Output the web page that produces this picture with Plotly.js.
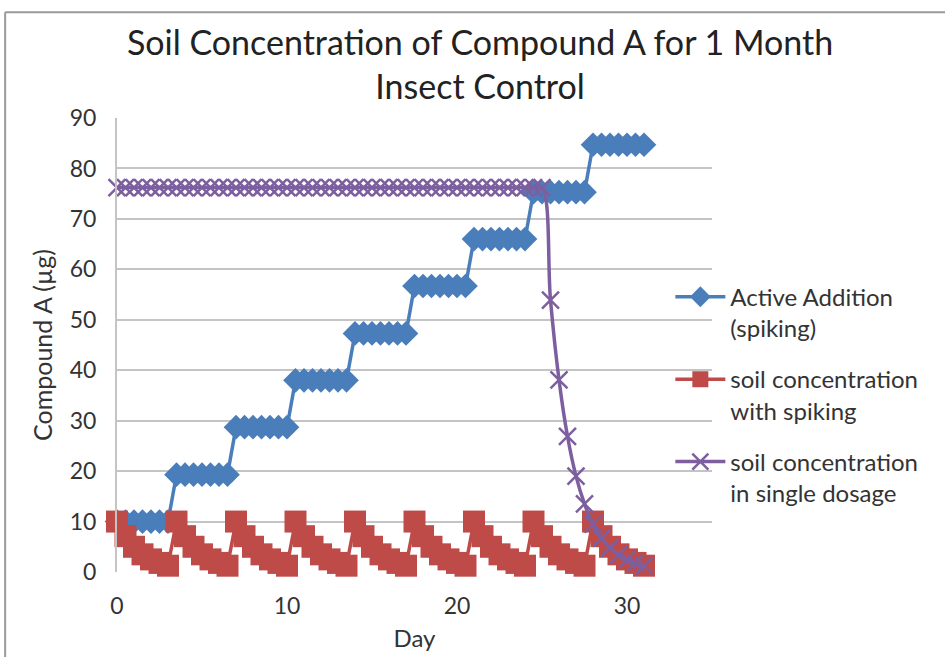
<!DOCTYPE html>
<html>
<head>
<meta charset="utf-8">
<script src="https://cdn.plot.ly/plotly-3.0.1.min.js"></script>
<style>html,body{margin:0;padding:0;background:#fff;}#chart{width:945px;height:657px;}</style>
</head>
<body>
<div id="chart"></div>
<script>
// Day values (every half day)
const days = [0,0.5,1,1.5,2,2.5,3,3.5,4,4.5,5,5.5,6,6.5,7,7.5,8,8.5,9,9.5,10,10.5,11,11.5,12,12.5,13,13.5,14,14.5,15,15.5,16,16.5,17,17.5,18,18.5,19,19.5,20,20.5,21,21.5,22,22.5,23,23.5,24,24.5,25,25.5,26,26.5,27,27.5,28,28.5,29,29.5,30,30.5,31];

const activeAddition = [
  10,10,10,10,10,10,10,
  19.3,19.3,19.3,19.3,19.3,19.3,19.3,
  28.7,28.7,28.7,28.7,28.7,28.7,28.7,
  38.0,38.0,38.0,38.0,38.0,38.0,38.0,
  47.3,47.3,47.3,47.3,47.3,47.3,47.3,
  56.7,56.7,56.7,56.7,56.7,56.7,56.7,
  66.0,66.0,66.0,66.0,66.0,66.0,66.0,
  75.3,75.3,75.3,75.3,75.3,75.3,75.3,
  84.7,84.7,84.7,84.7,84.7,84.7,84.7
];

const soilWithSpiking = [
  10,7.1,5.0,3.5,2.5,1.8,1.25,
  10,7.1,5.0,3.5,2.5,1.8,1.25,
  10,7.1,5.0,3.5,2.5,1.8,1.25,
  10,7.1,5.0,3.5,2.5,1.8,1.25,
  10,7.1,5.0,3.5,2.5,1.8,1.25,
  10,7.1,5.0,3.5,2.5,1.8,1.25,
  10,7.1,5.0,3.5,2.5,1.8,1.25,
  10,7.1,5.0,3.5,2.5,1.8,1.25,
  10,7.1,5.0,3.5,2.5,1.8,1.25
];

const soilSingleDose = [
  76.2,76.2,76.2,76.2,76.2,76.2,76.2,76.2,76.2,76.2,
  76.2,76.2,76.2,76.2,76.2,76.2,76.2,76.2,76.2,76.2,
  76.2,76.2,76.2,76.2,76.2,76.2,76.2,76.2,76.2,76.2,
  76.2,76.2,76.2,76.2,76.2,76.2,76.2,76.2,76.2,76.2,
  76.2,76.2,76.2,76.2,76.2,76.2,76.2,76.2,76.2,76.2,
  76.2,
  53.9,38.1,26.9,19.0,13.5,9.5,6.7,4.8,3.4,2.4,1.7,1.2
];

const seriesNames = ["Active Addition<br>(spiking)", "soil concentration<br>with spiking", "soil concentration<br>in single dosage"];
const yTicks = [0,10,20,30,40,50,60,70,80,90];
const xTicks = [0,10,20,30];

const FONT = "Lato, 'Open Sans', sans-serif";

const traces = [
  {
    x: days, y: activeAddition, name: seriesNames[0], legendgroup: "a",
    type: "scatter", mode: "lines+markers", cliponaxis: false,
    line: {color: "#4a7ebb", width: 3.5},
    marker: {symbol: "diamond", size: 19, color: "#4a7ebb"}
  },
  {
    x: days, y: soilWithSpiking, name: seriesNames[1], legendgroup: "b",
    type: "scatter", mode: "lines+markers", cliponaxis: false,
    line: {color: "#be4b48", width: 3.5},
    marker: {symbol: "square", size: 22, color: "#be4b48"}
  },
  {
    x: days, y: soilSingleDose, name: seriesNames[2], legendgroup: "c",
    type: "scatter", mode: "lines+markers", cliponaxis: false,
    line: {color: "#7d5fa0", width: 3.5, shape: "spline"},
    marker: {symbol: "x-thin-open", size: 17, color: "#7d5fa0", line: {color: "#7d5fa0", width: 2.5}}
  }
];

const layout = {
  width: 945, height: 657,
  margin: {l: 117, r: 233, t: 118, b: 85},
  paper_bgcolor: "#fff", plot_bgcolor: "#fff",
  font: {family: FONT, color: "#404040", size: 20},
  title: {
    text: "Soil Concentration of Compound A for 1 Month<br>Insect Control",
    font: {family: FONT, size: 34, color: "#222"},
    x: 0.508, xanchor: "center", y: 0.917, yanchor: "middle"
  },
  xaxis: {
    range: [0, 35], tickvals: xTicks, ticktext: xTicks.map(String),
    showgrid: false, zeroline: false, showline: false,
    ticks: "", ticklabelstandoff: 18,
    tickfont: {size: 23, color: "#333"},
    title: {text: "Day", font: {size: 24, color: "#333"}, standoff: 12}
  },
  yaxis: {
    range: [0, 90], tickvals: yTicks, ticktext: yTicks.map(String),
    showgrid: true, gridcolor: "#c4c4c4", gridwidth: 2,
    zeroline: false, showline: true, linecolor: "#c4c4c4", linewidth: 2,
    ticks: "", ticklabelstandoff: 14,
    tickfont: {size: 23, color: "#333"},
    title: {text: "Compound A (µg)", font: {size: 25, color: "#333"}, standoff: 10}
  },
  showlegend: true,
  legend: {
    x: 0.93, xanchor: "left", y: 0.655, yanchor: "top",
    bgcolor: "rgba(0,0,0,0)", valign: "top",
    font: {size: 24, color: "#333"},
    itemwidth: 50, tracegroupgap: 17, traceorder: "grouped"
  },
  shapes: [
    {type: "line", xref: "paper", yref: "paper", x0: -0.188, x1: 1.5, y0: 1.233, y1: 1.233, line: {color: "#9a9a9a", width: 2}},
    {type: "line", xref: "paper", yref: "paper", x0: -0.188, x1: -0.188, y0: 1.233, y1: -0.3, line: {color: "#9a9a9a", width: 2}}
  ]
};

Plotly.newPlot("chart", traces, layout, {displayModeBar: false, responsive: false});
</script>
</body>
</html>
